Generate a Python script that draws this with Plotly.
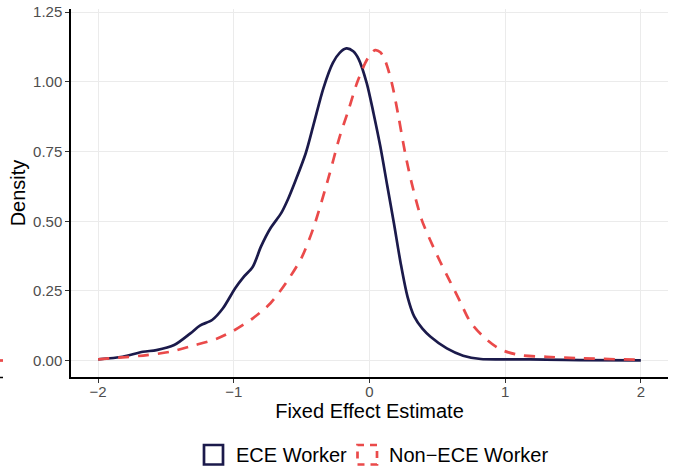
import plotly.graph_objects as go

# ---- data ----
ece_x = [-2.0, -1.82, -1.67, -1.57, -1.44, -1.32, -1.25, -1.16, -1.08, -0.99, -0.93, -0.86,
         -0.80, -0.73, -0.65, -0.60, -0.55, -0.47, -0.41, -0.34, -0.27, -0.22, -0.17, -0.12,
         -0.08, -0.02, 0.03, 0.08, 0.13, 0.18, 0.23, 0.28, 0.33, 0.39, 0.45, 0.57, 0.69, 0.82,
         1.06, 1.3, 1.55, 2.0]
ece_y = [0.005, 0.014, 0.032, 0.038, 0.056, 0.098, 0.126, 0.146, 0.188, 0.26, 0.299, 0.337,
         0.409, 0.475, 0.53, 0.58, 0.64, 0.744, 0.851, 0.977, 1.068, 1.104, 1.120, 1.110,
         1.082, 0.995, 0.887, 0.768, 0.63, 0.493, 0.349, 0.23, 0.158, 0.115, 0.086, 0.044, 0.018, 0.006,
         0.005, 0.004, 0.002, 0.001]

non_x = [-2.0, -1.82, -1.64, -1.47, -1.3, -1.13, -1.0, -0.86, -0.73, -0.61, -0.5, -0.41,
         -0.3, -0.22, -0.155, -0.093, -0.032, 0.005, 0.042, 0.08, 0.116, 0.165, 0.214, 0.263, 0.312,
         0.385, 0.447, 0.521, 0.595, 0.668, 0.742, 0.84, 0.962, 1.109, 1.305, 1.526, 2.0]
non_y = [0.005, 0.012, 0.020, 0.032, 0.054, 0.078, 0.108, 0.152, 0.206, 0.283, 0.37, 0.481,
         0.66, 0.803, 0.899, 0.995, 1.067, 1.098, 1.114, 1.106, 1.076, 0.995, 0.875, 0.744, 0.635,
         0.505, 0.433, 0.355, 0.283, 0.212, 0.14, 0.086, 0.041, 0.02, 0.014, 0.009, 0.003]

series_names = ["ECE Worker", "Non\u2212ECE Worker"]
x_ticks = [-2, -1, 0, 1, 2]
y_ticks = [0.0, 0.25, 0.5, 0.75, 1.0, 1.25]
y_tick_labels = ["0.00", "0.25", "0.50", "0.75", "1.00", "1.25"]

NAVY = "#1B1A4B"
RED = "#EA4A4A"
FONT = "Liberation Sans, Arial, sans-serif"

W, H = 677, 471
ML, MR, MT, MB = 71, 9, 9, 94
PW, PH = W - ML - MR, H - MT - MB


def px(xp):
    return (xp - ML) / PW


def py(yp):
    return (H - MB - yp) / PH


fig = go.Figure()
fig.add_trace(go.Scatter(x=ece_x, y=ece_y, mode="lines", name=series_names[0],
                         line=dict(color=NAVY, width=2.7, shape="spline", smoothing=0.8),
                         showlegend=False))
fig.add_trace(go.Scatter(x=non_x, y=non_y, mode="lines", name=series_names[1],
                         line=dict(color=RED, width=2.7, dash="11px,9px", shape="spline", smoothing=0.8),
                         showlegend=False))

axis_common = dict(showline=True, linecolor="black", linewidth=1.5, ticks="outside",
                   ticklen=4, tickwidth=1, tickcolor="#333333", showgrid=True,
                   gridcolor="#EBEBEB", gridwidth=1.1, zeroline=False, automargin=False,
                   tickfont=dict(family=FONT, size=15, color="#4D4D4D"))

fig.update_xaxes(range=[-2.2, 2.2], tickvals=x_ticks, ticklabelstandoff=-4,
                 title=dict(text="Fixed Effect Estimate", font=dict(family=FONT, size=20, color="black"),
                            standoff=4),
                 **axis_common)
fig.update_yaxes(range=[-0.0585, 1.2615], tickvals=y_ticks, ticktext=y_tick_labels,
                 title=dict(text="Density", font=dict(family=FONT, size=20, color="black"),
                            standoff=2),
                 **axis_common)

shapes = []
# custom legend keys (ggplot-style boxes)
shapes.append(dict(type="rect", xref="paper", yref="paper",
                   x0=px(204), x1=px(223), y0=py(464.5), y1=py(445),
                   line=dict(color=NAVY, width=2.7), fillcolor="rgba(0,0,0,0)"))
shapes.append(dict(type="rect", xref="paper", yref="paper",
                   x0=px(357.5), x1=px(377), y0=py(464.5), y1=py(445),
                   line=dict(color=RED, width=2.7, dash="7px,6px"), fillcolor="rgba(0,0,0,0)"))
# cropped neighbour-panel remnants at the far left edge
shapes.append(dict(type="line", xref="paper", yref="paper",
                   x0=px(0), x1=px(3), y0=py(360.5), y1=py(360.5),
                   line=dict(color=RED, width=2.7)))
shapes.append(dict(type="line", xref="paper", yref="paper",
                   x0=px(0), x1=px(3), y0=py(377.5), y1=py(377.5),
                   line=dict(color="black", width=1.5)))

annotations = [
    dict(text=series_names[0], xref="paper", yref="paper", x=px(234), y=py(455),
         xanchor="left", yanchor="middle", showarrow=False,
         font=dict(family=FONT, size=20, color="black")),
    dict(text=series_names[1], xref="paper", yref="paper", x=px(387), y=py(455),
         xanchor="left", yanchor="middle", showarrow=False,
         font=dict(family=FONT, size=20, color="black")),
]

fig.update_layout(width=W, height=H, margin=dict(l=ML, r=MR, t=MT, b=MB),
                  plot_bgcolor="white", paper_bgcolor="white",
                  shapes=shapes, annotations=annotations,
                  font=dict(family=FONT))

fig.write_html("out.html")
